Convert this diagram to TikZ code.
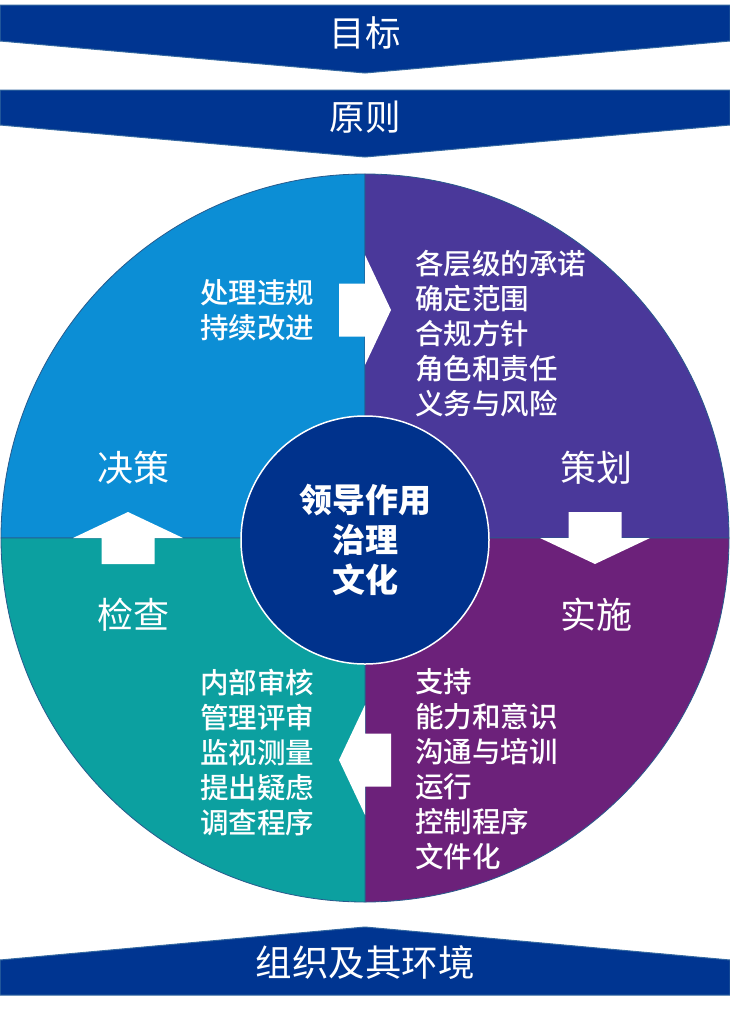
\documentclass[tikz,border=0pt]{standalone}
\usepackage{fontspec}
\setmainfont{Noto Sans CJK SC}
\newfontfamily\medfont{Noto Sans CJK SC Medium}
\definecolor{bannerblue}{RGB}{0,53,145}
\definecolor{bannerrim}{RGB}{52,104,160}
\definecolor{quadTL}{RGB}{12,142,213}
\definecolor{quadTR}{RGB}{74,56,154}
\definecolor{quadBR}{RGB}{108,33,122}
\definecolor{quadBL}{RGB}{12,160,160}
\definecolor{coreblue}{RGB}{0,50,140}
\definecolor{rimblue}{RGB}{40,90,140}

\begin{document}
\begin{tikzpicture}[
    x=1bp, y=-1bp, % one unit per pixel, y grows downwards
    banner/.style={fill=bannerblue, draw=bannerrim, line width=1bp}, % chevron bands
    bannertext/.style={text=white, font=\fontsize{35.5bp}{40bp}\selectfont},
    quarter/.style={draw=rimblue, line width=0.8bp}, % one quarter of the wheel
    phase/.style={text=white, font=\fontsize{36bp}{40bp}\selectfont},
    items/.style={
        text=white,
        align=left, % lists are left aligned
        anchor=west,
        inner sep=0pt,
        font=\medfont\fontsize{28.5bp}{35bp}\selectfont
    },
    core/.style={
        circle, minimum size=248bp,
        fill=coreblue, draw=white, line width=1.5bp,
        text=white, align=center,
        font=\bfseries\fontsize{33bp}{40bp}\selectfont
    },
    flow/.style={fill=white} % block arrows between the quarters
]
\useasboundingbox (0,0) rectangle (730,1011);
\fill[white] (0,0) rectangle (730,1011);

% bands at top and bottom
\filldraw[banner] (0,5) -- (730,5) -- (730,41) -- (365,73) -- (0,41) -- cycle;
\filldraw[banner] (0,90) -- (730,90) -- (730,125) -- (365,157) -- (0,125) -- cycle;
\filldraw[banner] (0,995) -- (0,960) -- (365,927) -- (730,960) -- (730,995) -- cycle;
\node[bannertext] (goal) at (365,33) {目标};
\node[bannertext] (principle) at (365,117) {原则};
\node[bannertext, font=\fontsize{36.5bp}{40bp}\selectfont] (context) at (365,963) {组织及其环境};

% the wheel
\foreach \c/\s in {quadTL/180, quadTR/270, quadBR/0, quadBL/90}
    \filldraw[quarter, fill=\c] (365,538) -- ++(\s:364) arc[start angle=\s, delta angle=90, radius=364] -- cycle;

\foreach \x/\y/\a in {365/310/0, 595/538/-90, 128/538/90, 365/760/180}
    \fill[flow, shift={(\x,\y)}, rotate=\a] (-26,-26.5) -- (0,-26.5) -- (0,-55) -- (26,0) -- (0,55) -- (0,26.5) -- (-26,26.5) -- cycle;

\node[core] (core) at (365,540) {领导作用\\治理\\文化};

\node[phase] (act) at (133,468) {决策};
\node[phase] (plan) at (596,468) {策划};
\node[phase] (check) at (133,615) {检查};
\node[phase] (do) at (596,615) {实施};

\node[items] (actlist) at (200,310) {处理违规\\持续改进};
\node[items] (planlist) at (415,333.5) {各层级的承诺\\确定范围\\合规方针\\角色和责任\\义务与风险};
\node[items] (dolist) at (415,769.5) {支持\\能力和意识\\沟通与培训\\运行\\控制程序\\文件化};
\node[items] (checklist) at (200,752.5) {内部审核\\管理评审\\监视测量\\提出疑虑\\调查程序};
\end{tikzpicture}
\end{document}
